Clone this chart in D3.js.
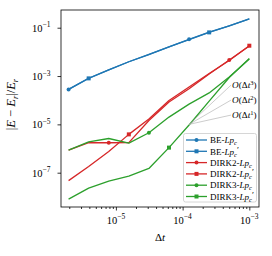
<!DOCTYPE html>
<html>
<head>
<meta charset="utf-8">
<script src="https://cdn.jsdelivr.net/npm/d3@7/dist/d3.min.js"></script>
<style>
  body { margin: 0; background: #fff; }
  text { font-family: "Liberation Serif", "DejaVu Serif", serif; fill: #000; }
</style>
</head>
<body>
<svg id="chart" width="272" height="256"></svg>
<script>
// time steps, 1e-3 / 2^k
const dt = [1.953125e-6, 3.90625e-6, 7.8125e-6, 1.5625e-5, 3.125e-5, 6.25e-5, 1.25e-4, 2.5e-4, 5e-4, 1e-3];

const beLpc      = [2.8e-4, 8.1e-4, 1.8e-3, 3.9e-3, 7.7e-3, 1.6e-2, 3.3e-2, 6.5e-2, 0.12, 0.23];
const beLpcP     = [2.8e-4, 8.0e-4, 1.8e-3, 3.9e-3, 7.8e-3, 1.6e-2, 3.2e-2, 6.4e-2, 0.12, 0.23];
const dirk2Lpc   = [8.6e-7, 1.76e-6, 1.73e-6, 1.76e-6, 1.44e-5, 8.4e-5, 3.0e-4, 1.21e-3, 4.6e-3, 1.75e-2];
const dirk2LpcP  = [4.7e-8, 1.8e-7, 7.5e-7, 3.85e-6, 1.66e-5, 9.7e-5, 3.5e-4, 1.27e-3, 4.4e-3, 1.8e-2];
const dirk3Lpc   = [8.6e-7, 1.9e-6, 2.6e-6, 1.68e-6, 4.5e-6, 2.0e-5, 6.9e-5, 2.0e-4, 9.1e-4, 5.1e-3];
const dirk3LpcP  = [8.1e-9, 2.3e-8, 4.5e-8, 7.2e-8, 1.5e-7, 1.09e-6, 9.4e-6, 9.2e-5, 8.7e-4, 5.3e-3];

const methods = ['BE', 'DIRK2', 'DIRK3'];
const xTicks = [1e-5, 1e-4, 1e-3];
const yTicks = [1e-1, 1e-3, 1e-5, 1e-7];
const orders = ['3', '2', '1'];
const refPoint = [1.25e-4, 1e-5];

const colors = { BE: '#1f77b4', DIRK2: '#d62728', DIRK3: '#2ca02c' };

const series = [
  { method: 'BE', prime: false, values: beLpc },
  { method: 'BE', prime: true, values: beLpcP },
  { method: 'DIRK2', prime: false, values: dirk2Lpc },
  { method: 'DIRK2', prime: true, values: dirk2LpcP },
  { method: 'DIRK3', prime: false, values: dirk3Lpc },
  { method: 'DIRK3', prime: true, values: dirk3LpcP }
];

const margin = { top: 10, right: 13, bottom: 49, left: 61 };
const width = 272 - margin.left - margin.right;
const height = 256 - margin.top - margin.bottom;

const svg = d3.select('#chart');
const g = svg.append('g')
  .attr('transform', `translate(${margin.left},${margin.top})`);

const x = d3.scaleLog()
  .domain([Math.pow(10, -5.823), Math.pow(10, -2.855)])
  .range([0, width]);

const y = d3.scaleLog()
  .domain([Math.pow(10, -8.42), Math.pow(10, -0.267)])
  .range([height, 0]);

// minor ticks on x
const minorTicks = [];
for (let e = -7; e <= -3; e++) {
  for (let m = 2; m <= 9; m++) {
    const v = m * Math.pow(10, e);
    if (v >= x.domain()[0] && v <= x.domain()[1]) minorTicks.push(v);
  }
}

const xMinor = g.append('g')
  .attr('transform', `translate(0,${height})`)
  .call(d3.axisBottom(x).tickValues(minorTicks).tickSize(2).tickFormat(''));
const xMajor = g.append('g')
  .attr('transform', `translate(0,${height})`)
  .call(d3.axisBottom(x).tickValues(xTicks).tickSize(3.5).tickFormat(''));
const yMajor = g.append('g')
  .call(d3.axisLeft(y).tickValues(yTicks).tickSize(3.5).tickFormat(''));

[xMinor, xMajor, yMajor].forEach(a => {
  a.select('.domain').remove();
  a.selectAll('.tick line').attr('stroke', '#000').attr('stroke-width', 0.8);
});

// tick labels, 10^n
function powLabel(sel, d) {
  sel.append('tspan').text('10');
  sel.append('tspan')
    .attr('dy', -4.5)
    .style('font-size', '7.5px')
    .text('\u2212' + Math.round(-Math.log10(d)));
}

g.selectAll('.xlab')
  .data(xTicks)
  .enter()
  .append('text')
    .attr('class', 'xlab')
    .attr('x', d => x(d))
    .attr('y', height + 16.5)
    .attr('text-anchor', 'middle')
    .style('font-size', '10.5px')
    .each(function(d) { powLabel(d3.select(this), d); });

g.selectAll('.ylab')
  .data(yTicks)
  .enter()
  .append('text')
    .attr('class', 'ylab')
    .attr('x', -10.5)
    .attr('y', d => y(d) + 4)
    .attr('text-anchor', 'end')
    .style('font-size', '10.5px')
    .each(function(d) { powLabel(d3.select(this), d); });

// axis titles
const xt = g.append('text')
  .attr('x', width / 2)
  .attr('y', height + 33.5)
  .attr('text-anchor', 'middle')
  .style('font-size', '11px');
xt.append('tspan').text('\u0394');
xt.append('tspan').style('font-style', 'italic').text('t');

const yt = g.append('text')
  .attr('transform', `translate(${15 - margin.left},${height / 2 - 4}) rotate(-90)`)
  .attr('text-anchor', 'middle')
  .style('font-size', '12.5px');
yt.append('tspan').text('|');
yt.append('tspan').style('font-style', 'italic').text('E');
yt.append('tspan').text(' \u2212 ');
yt.append('tspan').style('font-style', 'italic').text('E');
yt.append('tspan').attr('dy', 2.5).style('font-size', '8.5px').style('font-style', 'italic').text('r');
yt.append('tspan').attr('dy', -2.5).text('|/');
yt.append('tspan').style('font-style', 'italic').text('E');
yt.append('tspan').attr('dy', 2.5).style('font-size', '8.5px').style('font-style', 'italic').text('r');

// lines
const line = d3.line()
  .x((d, i) => x(dt[i]))
  .y(d => y(d));

svg.append('defs').append('clipPath').attr('id', 'plotclip')
  .append('rect').attr('width', width).attr('height', height);

const plot = g.append('g').attr('clip-path', 'url(#plotclip)');

function drawMarker(sel, prime, color) {
  if (prime) {
    sel.append('rect')
      .attr('x', -2).attr('y', -2).attr('width', 4).attr('height', 4)
      .attr('fill', color);
  } else {
    sel.append('circle').attr('r', 2).attr('fill', color);
  }
}

series.forEach((s, si) => {
  const color = colors[s.method];
  plot.append('path')
    .datum(s.values)
    .attr('d', line)
    .attr('fill', 'none')
    .attr('stroke', color)
    .attr('stroke-width', 1.3)
    .attr('stroke-linejoin', 'round');

  const marked = s.values
    .map((v, i) => ({ v, i }))
    .filter(p => p.i >= si && (p.i - si) % 6 === 0);

  plot.selectAll(`.m${si}`)
    .data(marked)
    .enter()
    .append('g')
      .attr('class', `m${si}`)
      .attr('transform', p => `translate(${x(dt[p.i])},${y(p.v)})`)
      .each(function() { drawMarker(d3.select(this), s.prime, color); });
});

// order annotations
const ax = x(refPoint[0]);
const ay = y(refPoint[1]);
orders.forEach((o, i) => {
  const tx = ax + 43;
  const ty = ay - 39.3 + i * 15;
  g.append('line')
    .attr('x1', ax).attr('y1', ay)
    .attr('x2', tx - 1).attr('y2', ty)
    .attr('stroke', '#aaa')
    .attr('stroke-width', 0.6);
  const t = g.append('text')
    .attr('x', tx)
    .attr('y', ty + 3.3)
    .style('font-size', '9.2px');
  t.append('tspan').style('font-style', 'italic').text('O');
  t.append('tspan').text('(\u0394');
  t.append('tspan').style('font-style', 'italic').text('t');
  t.append('tspan').attr('dy', -3.8).style('font-size', '6.5px').text(o);
  t.append('tspan').attr('dy', 3.8).text(')');
});

// frame
g.append('rect')
  .attr('width', width)
  .attr('height', height)
  .attr('fill', 'none')
  .attr('stroke', '#000')
  .attr('stroke-width', 0.8);

// legend
const legend = g.append('g')
  .attr('transform', `translate(${183.5 - margin.left},${133.5 - margin.top})`);

legend.append('rect')
  .attr('width', 73)
  .attr('height', 68.5)
  .attr('rx', 2)
  .attr('fill', '#fff')
  .attr('fill-opacity', 0.8)
  .attr('stroke', '#ccc')
  .attr('stroke-width', 0.8);

series.forEach((s, i) => {
  const color = colors[s.method];
  const row = legend.append('g')
    .attr('transform', `translate(0,${6.5 + i * 11.3})`);
  row.append('line')
    .attr('x1', 2.5).attr('x2', 23.5)
    .attr('stroke', color)
    .attr('stroke-width', 1.3);
  row.append('g')
    .attr('transform', 'translate(13,0)')
    .call(sel => drawMarker(sel, s.prime, color));
  const t = row.append('text')
    .attr('x', 26.5)
    .attr('y', 3.2)
    .style('font-size', '9px');
  t.append('tspan').text(s.method + '-');
  t.append('tspan').style('font-style', 'italic').text('Lp');
  t.append('tspan').attr('dy', 2).style('font-size', '6.5px').style('font-style', 'italic').text('c');
  if (s.prime) t.append('tspan').attr('dy', -4).style('font-size', '9px').text('\u2032');
});
</script>
</body>
</html>
